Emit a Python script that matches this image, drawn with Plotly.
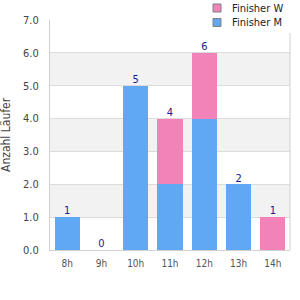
import plotly.graph_objects as go

categories = ["8h", "9h", "10h", "11h", "12h", "13h", "14h"]
finisher_m = [1, 0, 5, 2, 4, 2, 0]
finisher_w = [0, 0, 0, 2, 2, 0, 1]
totals = [m + w for m, w in zip(finisher_m, finisher_w)]
y_ticks = [0, 1, 2, 3, 4, 5, 6, 7]
legend_names = ["Finisher W", "Finisher M"]

BLUE = "#60a8f4"
PINK = "#f283b9"
FONT = "DejaVu Sans Condensed, DejaVu Sans"

# plot area in pixels
L, R, T, B = 50, 290, 20, 250
def px(x):
    return (x - L) / (R - L)
def py(y):
    return (B - y) / (B - T)

fig = go.Figure()
fig.add_trace(go.Bar(x=categories, y=finisher_m, marker=dict(color=BLUE, line=dict(width=0)),
                     name="Finisher M", showlegend=False, hoverinfo="skip"))
fig.add_trace(go.Bar(x=categories, y=finisher_w, marker=dict(color=PINK, line=dict(width=0)),
                     name="Finisher W", showlegend=False, hoverinfo="skip"))
fig.add_trace(go.Scatter(x=categories, y=totals, mode="text", text=[str(t) for t in totals],
                         textposition="top center", textfont=dict(color="#1a1a8c", size=11, family=FONT),
                         showlegend=False, hoverinfo="skip"))

# alternating bands
for lo in [1, 3, 5]:
    fig.add_shape(type="rect", xref="paper", yref="y", x0=0, x1=1, y0=lo, y1=lo + 1,
                  fillcolor="#f2f2f2", line=dict(width=0), layer="below")

# white legend background covering top grid line
fig.add_shape(type="rect", xref="paper", yref="paper", x0=px(205), x1=px(300), y0=py(33), y1=py(0),
              fillcolor="white", line=dict(width=0), layer="above")
# right border
fig.add_shape(type="line", xref="paper", yref="paper", x0=1, x1=1, y0=0, y1=py(33),
              line=dict(color="#d0d0d0", width=1), layer="above")

# manual legend
for i, (name, col) in enumerate(zip(legend_names, [PINK, BLUE])):
    cy = 8 + i * 14.5
    fig.add_shape(type="rect", xref="paper", yref="paper", x0=px(213), x1=px(221),
                  y0=py(cy + 4), y1=py(cy - 4), fillcolor=col, line=dict(color="#808080", width=1),
                  layer="above")
    fig.add_annotation(xref="paper", yref="paper", x=px(230), y=py(cy), text=name, showarrow=False,
                       xanchor="left", yanchor="middle", font=dict(size=11, color="#222", family=FONT))

# y-axis title
fig.add_annotation(xref="paper", yref="paper", x=px(6), y=0.5, text="Anzahl Läufer", showarrow=False,
                   textangle=-90, xanchor="center", yanchor="middle",
                   font=dict(size=12, color="#444", family=FONT))

fig.update_layout(
    width=300, height=300, barmode="stack", bargap=0.27,
    margin=dict(l=L, r=300 - R, t=T, b=300 - B),
    paper_bgcolor="white", plot_bgcolor="white",
    font=dict(family=FONT, size=11, color="#444"),
    showlegend=False,
    xaxis=dict(type="category", showline=True, linecolor="#d0d0d0", linewidth=1,
               showgrid=False, ticks="", tickfont=dict(size=10, color="#555"), fixedrange=True,
               ticklabelstandoff=4, automargin=False),
    yaxis=dict(range=[0, 7], tickvals=y_ticks, ticktext=[f"{v:.1f}" for v in y_ticks],
               showgrid=True, gridcolor="#dcdcdc", showline=True, linecolor="#d0d0d0",
               zeroline=False, ticks="", tickfont=dict(size=11, color="#444"),
               ticklabelstandoff=8, automargin=False),
)
fig.write_html("out.html")
